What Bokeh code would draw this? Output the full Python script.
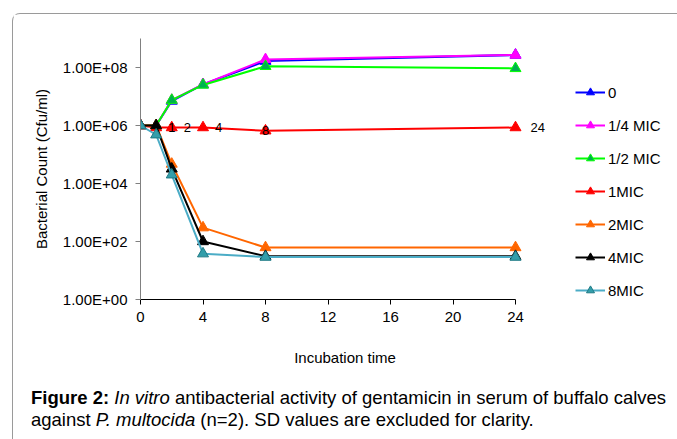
from bokeh.plotting import figure
from bokeh.models import (Range1d, FixedTicker, Legend, LegendItem, Div, ColumnDataSource)
from bokeh.layouts import column
from bokeh.core.properties import value
from bokeh.embed import file_html
from bokeh.resources import INLINE

# ---------------- data ----------------
times = [0, 1, 2, 4, 8, 24]
series_names = ["0", "1/4 MIC", "1/2 MIC", "1MIC", "2MIC", "4MIC", "8MIC"]
cnt_0 = [1.0e6, 1.0e6, 7.0e6, 2.6e7, 1.66e8, 2.7e8]
cnt_q = [1.0e6, 1.0e6, 7.5e6, 2.6e7, 1.9e8, 2.7e8]
cnt_h = [1.0e6, 1.0e6, 7.5e6, 2.5e7, 1.1e8, 9.3e7]
cnt_1 = [1.0e6, 8.5e5, 8.5e5, 8.5e5, 6.6e5, 8.5e5]
cnt_2 = [1.0e6, 1.0e6, 4.7e4, 3.0e2, 6.2e1, 6.2e1]
cnt_4 = [1.0e6, 1.0e6, 3.2e4, 1.0e2, 3.1e1, 3.1e1]
cnt_8 = [1.0e6, 4.8e5, 2.0e4, 3.8e1, 2.9e1, 2.9e1]
red_label_times = [1, 2, 4, 8, 24]
red_label_texts = ["1", "2", "4", "8", "24"]
x_ticks = [0, 4, 8, 12, 16, 20, 24]
y_ticks = [1, 1e2, 1e4, 1e6, 1e8]
y_tick_labels = ["1.00E+00", "1.00E+02", "1.00E+04", "1.00E+06", "1.00E+08"]
x_title = "Incubation time"
y_title = "Bacterial Count (Cfu/ml)"
caption_html = ("<b>Figure 2:</b> <i>In vitro</i> antibacterial activity of gentamicin "
                "in serum of buffalo calves<br>against <i>P. multocida</i> (n=2). "
                "SD values are excluded for clarity.")

FONT = "Liberation Sans"

# figure placed at page (13, 14) inside the bordered column
FIG_W, FIG_H = 664, 326
BORDER_L, BORDER_T = 127, 24
# frame spans page x 140..677; t=24 must land at page x 515
X_END = 24 * (677 - 140) / (515 - 140)
p = figure(width=FIG_W, height=FIG_H, output_backend="svg", toolbar_location=None,
           y_axis_type="log",
           x_range=Range1d(0, X_END), y_range=Range1d(1, 1e9),
           min_border_left=BORDER_L, min_border_right=0,
           min_border_top=BORDER_T, min_border_bottom=41)
p.outline_line_color = None
p.grid.visible = False
p.background_fill_color = "white"
p.border_fill_color = "white"

# axes
xa = p.xaxis[0]
xa.ticker = FixedTicker(ticks=x_ticks)
xa.bounds = (0, 24)
xa.axis_line_color = "black"
xa.major_tick_line_color = "black"
xa.major_tick_out = 5
xa.major_tick_in = 0
xa.minor_tick_line_color = None
xa.major_label_text_font = FONT
xa.major_label_text_font_size = "15px"
xa.major_label_text_color = "black"
xa.major_label_standoff = 7

ya = p.yaxis[0]
ya.ticker = FixedTicker(ticks=y_ticks, minor_ticks=[])
ya.major_label_overrides = {t: l for t, l in zip(y_ticks, y_tick_labels)}
ya.axis_line_color = "#808080"
ya.major_tick_line_color = "#808080"
ya.major_tick_out = 5
ya.major_tick_in = 0
ya.minor_tick_line_color = None
ya.major_label_text_font = FONT
ya.major_label_text_font_size = "15px"
ya.major_label_text_color = "black"
ya.major_label_standoff = 8
ya.axis_label = y_title
ya.axis_label_text_font = FONT
ya.axis_label_text_font_size = "15px"
ya.axis_label_text_font_style = "normal"
ya.axis_label_text_color = "black"
ya.axis_label_standoff = 10

# series
all_counts = [cnt_0, cnt_q, cnt_h, cnt_1, cnt_2, cnt_4, cnt_8]
line_colors = ["#0000FF", "#FF00FF", "#00FF00", "#FF0000", "#FF6600", "#000000", "#4BACC6"]
fill_colors = ["#0000FF", "#FF00FF", "#00B050", "#FF0000", "#FF6600", "#000000", "#339EAA"]
edge_colors = ["#0000FF", "#FF00FF", "#00FF00", "#FF0000", "#FF6600", "#000000", "#1F7A85"]

items = []
for name, cnts, lc, fc, ec in zip(series_names, all_counts, line_colors, fill_colors, edge_colors):
    src = ColumnDataSource(dict(t=times, c=cnts))
    r1 = p.line("t", "c", source=src, line_color=lc, line_width=2)
    r2 = p.scatter("t", "c", source=src, marker="triangle", size=11,
                   fill_color=fc, line_color=ec, line_width=1)
    items.append(LegendItem(label=name, renderers=[r1, r2]))

# red data labels
red_y = [cnt_1[times.index(t)] for t in red_label_times]
lab_offsets = [12, 12, 12, -3.5, 15]
lsrc = ColumnDataSource(dict(t=red_label_times, c=red_y, txt=red_label_texts, dx=lab_offsets))
p.text("t", "c", text="txt", source=lsrc, x_offset="dx",
       text_font=value(FONT), text_font_size="13px", text_color="black",
       text_baseline="middle", text_align="left")

# legend inside the (wide) frame: glyph left at page x 575, bottom at page y 300
legend = Legend(items=items, location=(575 - 140, 299 - 300), orientation="vertical",
                glyph_width=30, glyph_height=20, label_height=20, spacing=13,
                label_standoff=3, padding=0, margin=0,
                border_line_color=None, background_fill_alpha=0,
                label_text_font=FONT, label_text_font_size="15px",
                label_text_color="black")
p.add_layout(legend)

# x-axis title (centred at page x 345, y 358) + caption, as HTML text below the plot
bottom_html = (
    f'<div style="margin-left:232px;width:200px;text-align:center;font-size:15px;'
    f'height:36px;line-height:36px;">{x_title}</div>'
    f'<div style="padding-left:18px;padding-top:11px;font-size:18.5px;line-height:22px;">'
    f'{caption_html}</div>'
)
cap = Div(text=bottom_html, width=FIG_W, height=99, margin=0,
          styles={"font-family": FONT, "white-space": "nowrap", "color": "black"})

root = column(p, cap, spacing=0, margin=(13, 0, 0, 12),
              styles={"border-top": "1px solid #9A9A9A",
                      "border-left": "1px solid #9A9A9A",
                      "border-top-left-radius": "8px",
                      "background-color": "white"})

open("out.html", "w").write(file_html(root, INLINE))
